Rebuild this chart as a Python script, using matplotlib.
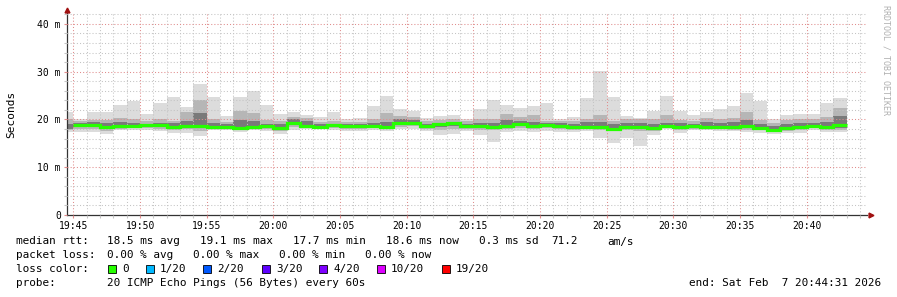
import numpy as np
import matplotlib
matplotlib.use("Agg")
import matplotlib.pyplot as plt
from matplotlib.ticker import MultipleLocator, FixedLocator

# one column per minute, first column starts 19:44
first_col = "19:44"
ping_max = [21.5, 20.1, 21.5, 21.5, 23.1, 23.8, 21.2, 23.5, 24.8, 22.7,
            27.5, 24.8, 20.8, 24.8, 26.0, 23.1, 21.2, 21.5, 21.0, 20.5,
            21.5, 20.0, 20.3, 22.9, 25.0, 22.1, 21.7, 20.3, 20.8, 20.9,
            20.1, 22.2, 24.1, 23.0, 22.4, 22.8, 23.4, 20.1, 20.6, 24.5,
            30.1, 24.8, 20.8, 20.3, 21.8, 25.0, 21.7, 21.0, 21.5, 22.1,
            22.9, 25.6, 23.8, 20.0, 21.0, 21.2, 21.2, 23.5, 24.5]
ping_hi_mid = [20.0, 19.6, 19.9, 19.9, 20.3, 20.0, 19.6, 20.0, 19.7, 21.5,
               24.0, 20.0, 19.5, 21.8, 21.3, 19.8, 19.7, 20.6, 20.4, 19.5,
               19.6, 19.4, 19.4, 20.0, 21.3, 20.8, 20.6, 19.6, 19.8, 20.0,
               19.6, 20.0, 20.2, 21.2, 20.6, 21.0, 19.6, 19.6, 19.6, 20.2,
               21.0, 19.6, 20.0, 20.0, 20.0, 21.0, 19.8, 19.7, 20.4, 20.2,
               20.3, 21.5, 19.8, 19.3, 19.8, 20.2, 20.2, 20.6, 22.3]
ping_hi_in = [19.0, 19.2, 19.4, 19.2, 19.4, 19.3, 19.1, 19.3, 19.2, 19.6,
              21.3, 19.2, 19.0, 19.8, 19.6, 19.1, 19.0, 20.0, 19.6, 19.0,
              19.1, 19.0, 19.0, 19.2, 19.5, 20.0, 19.8, 19.1, 19.3, 19.5,
              19.1, 19.2, 19.2, 19.8, 19.7, 19.5, 19.2, 19.2, 19.1, 19.4,
              19.4, 19.0, 19.2, 19.2, 19.0, 19.3, 19.2, 19.1, 19.5, 19.2,
              19.4, 19.8, 19.0, 18.6, 19.1, 19.3, 19.3, 19.5, 20.8]
median_rtt = [np.nan, 18.9, 18.9, 18.5, 18.6, 18.7, 18.8, 18.8, 18.4, 18.7,
              18.7, 18.5, 18.5, 18.3, 18.5, 18.6, 18.3, 19.2, 18.7, 18.5,
              18.8, 18.7, 18.7, 18.7, 18.5, 19.2, 19.3, 18.7, 19.0, 19.2,
              18.7, 18.6, 18.5, 18.7, 19.0, 18.6, 18.8, 18.7, 18.5, 18.5,
              18.5, 18.1, 18.5, 18.5, 18.2, 18.7, 18.5, 18.6, 18.4, 18.4,
              18.4, 18.6, 18.2, 17.9, 18.2, 18.5, 18.7, 18.5, 18.8]
ping_lo_in = [18.0, 18.5, 18.6, 18.0, 18.3, 18.5, 18.5, 18.4, 18.1, 18.4,
              18.2, 18.3, 18.3, 18.2, 18.4, 18.4, 17.9, 18.8, 18.5, 18.3,
              18.5, 18.3, 18.4, 18.4, 18.3, 18.8, 18.9, 18.4, 18.4, 18.7,
              18.4, 18.2, 18.1, 18.3, 18.6, 18.2, 18.5, 18.3, 18.1, 18.2,
              18.1, 17.8, 18.1, 18.0, 17.9, 18.5, 18.1, 18.3, 18.2, 18.2,
              18.1, 18.2, 17.9, 17.6, 17.9, 18.1, 18.4, 18.2, 18.2]
ping_lo_mid = [17.8, 18.0, 18.1, 17.5, 18.0, 18.3, 18.2, 18.0, 17.8, 18.1,
               17.6, 18.1, 18.1, 17.9, 18.2, 18.1, 17.5, 18.4, 18.3, 18.1,
               18.2, 18.0, 18.1, 18.2, 18.0, 18.5, 18.6, 18.0, 17.8, 18.0,
               18.0, 17.7, 17.8, 18.0, 18.3, 18.0, 18.2, 18.0, 17.8, 18.0,
               17.8, 17.5, 17.8, 17.5, 17.6, 18.3, 17.7, 18.0, 18.0, 18.0,
               17.8, 17.9, 17.7, 17.3, 17.5, 17.8, 18.2, 17.9, 17.8]
ping_min = [17.3, 17.3, 17.3, 17.0, 17.7, 17.9, 17.7, 17.5, 17.2, 17.2,
            16.6, 17.7, 17.9, 17.3, 17.7, 17.6, 17.0, 17.9, 18.0, 18.0,
            17.7, 17.5, 17.5, 17.7, 17.5, 18.0, 18.0, 17.5, 16.8, 17.0,
            17.6, 16.8, 15.3, 17.3, 17.6, 17.3, 17.6, 17.4, 17.3, 17.6,
            16.2, 15.0, 16.1, 14.5, 16.8, 18.0, 17.1, 17.7, 17.7, 17.5,
            17.5, 17.3, 17.2, 17.0, 17.2, 17.2, 17.7, 17.3, 17.3]

x_ticks = ["19:45", "19:50", "19:55", "20:00", "20:05", "20:10",
           "20:15", "20:20", "20:25", "20:30", "20:35", "20:40"]
y_ticks = [0, 10, 20, 30, 40]
y_labels = ["0", "10 m", "20 m", "30 m", "40 m"]
window_start = "19:44:31"
window_end = "20:44:31"

loss_names = ["0", "1/20", "2/20", "3/20", "4/20", "10/20", "19/20"]
loss_colors = ["#26ff00", "#00b8ff", "#0059ff", "#5e00ff", "#7e00ff",
               "#dd00ff", "#ff0000"]


def toMin(s):
  parts = [int(p) for p in s.split(":")]
  m = (parts[0] - 19) * 60 + parts[1]
  if len(parts) > 2:
    m += parts[2] / 60.0
  return m


W, H = 897, 297
mono = "DejaVu Sans Mono"
fig = plt.figure(figsize=(W / 100, H / 100), dpi=100)
fig.patch.set_facecolor("white")
ax = fig.add_axes([67 / W, 82 / H, 800 / W, 203 / H])

edges = toMin(first_col) + np.arange(len(ping_max) + 1)
ax.stairs(ping_max, edges, baseline=ping_min, fill=True, color="#dcdcdc",
          zorder=1)
ax.stairs(ping_hi_mid, edges, baseline=ping_lo_mid, fill=True,
          color="#b6b6b6", zorder=1.1)
ax.stairs(ping_hi_in, edges, baseline=ping_lo_in, fill=True,
          color="#7a7a7a", zorder=1.2)
ax.stairs(median_rtt, edges, baseline=None, color="#26ff00", linewidth=2.3,
          zorder=3)

ax.set_xlim(toMin(window_start), toMin(window_end))
ax.set_ylim(0, 42.5)
ax.xaxis.set_major_locator(FixedLocator([toMin(t) for t in x_ticks]))
ax.set_xticklabels(x_ticks)
ax.xaxis.set_minor_locator(MultipleLocator(1))
ax.set_yticks(y_ticks)
ax.set_yticklabels(y_labels)
ax.yaxis.set_minor_locator(MultipleLocator(2))

ax.set_axisbelow(False)
ax.grid(which="minor", color="#c4c4c4", linestyle=(0, (1, 2)),
        linewidth=0.75, zorder=2)
ax.grid(which="major", color="#e08c8c", linestyle=(0, (1, 2)),
        linewidth=0.75, zorder=2)
ax.tick_params(which="major", length=2.5, width=0.8, color="#e08c8c",
               labelsize=7, pad=2)
ax.tick_params(which="minor", length=2.5, width=0.8, color="#c4c4c4")
for lab in ax.get_xticklabels() + ax.get_yticklabels():
  lab.set_family(mono)

for side in ("top", "right"):
  ax.spines[side].set_visible(False)
for side in ("left", "bottom"):
  ax.spines[side].set_color("#333333")
  ax.spines[side].set_linewidth(0.9)
ax.plot([0], [1.01], marker="^", markersize=3.5, color="#a01010",
        transform=ax.transAxes, clip_on=False, zorder=5)
ax.plot([1.005], [0], marker=">", markersize=3.5, color="#a01010",
        transform=ax.transAxes, clip_on=False, zorder=5)

fig.text(11 / W, 1 - 114 / H, "Seconds", rotation=90, ha="center",
         va="center", family=mono, fontsize=8)
fig.text(886 / W, 1 - 5 / H, "RRDTOOL / TOBI OETIKER", rotation=270,
         ha="center", va="top", family=mono, fontsize=6, color="#b0b0b0")

fs = 7.9
def px(x, y):
  return x / W, 1 - y / H

rows = [
  (241.5, [(16, "median rtt:"), (107, "18.5 ms avg"), (200, "19.1 ms max"),
           (293, "17.7 ms min"), (386, "18.6 ms now"), (479, "0.3 ms sd"),
           (551, "71.2"), (607, "am/s")]),
  (255, [(16, "packet loss:"), (107, "0.00 % avg"), (193, "0.00 % max"),
         (279, "0.00 % min"), (365, "0.00 % now")]),
  (269, [(16, "loss color:")]),
  (283, [(16, "probe:"), (107, "20 ICMP Echo Pings (56 Bytes) every 60s")]),
]
for y, items in rows:
  for x, s in items:
    fig.text(*px(x, y), s, family=mono, fontsize=fs, va="center", ha="left")
fig.text(*px(881, 283), "end: Sat Feb  7 20:44:31 2026", family=mono,
         fontsize=fs, va="center", ha="right")

sq_x = [108, 146, 203, 262, 319, 377, 442]
for x, name, col in zip(sq_x, loss_names, loss_colors):
  fig.patches.append(plt.Rectangle(px(x, 273), 8 / W, 8 / H, facecolor=col,
                                   edgecolor="black", linewidth=0.6,
                                   transform=fig.transFigure, figure=fig))
  fig.text(*px(x + 14, 269), name, family=mono, fontsize=fs, va="center",
           ha="left")

fig.savefig("out.png", dpi=100, facecolor="white")
